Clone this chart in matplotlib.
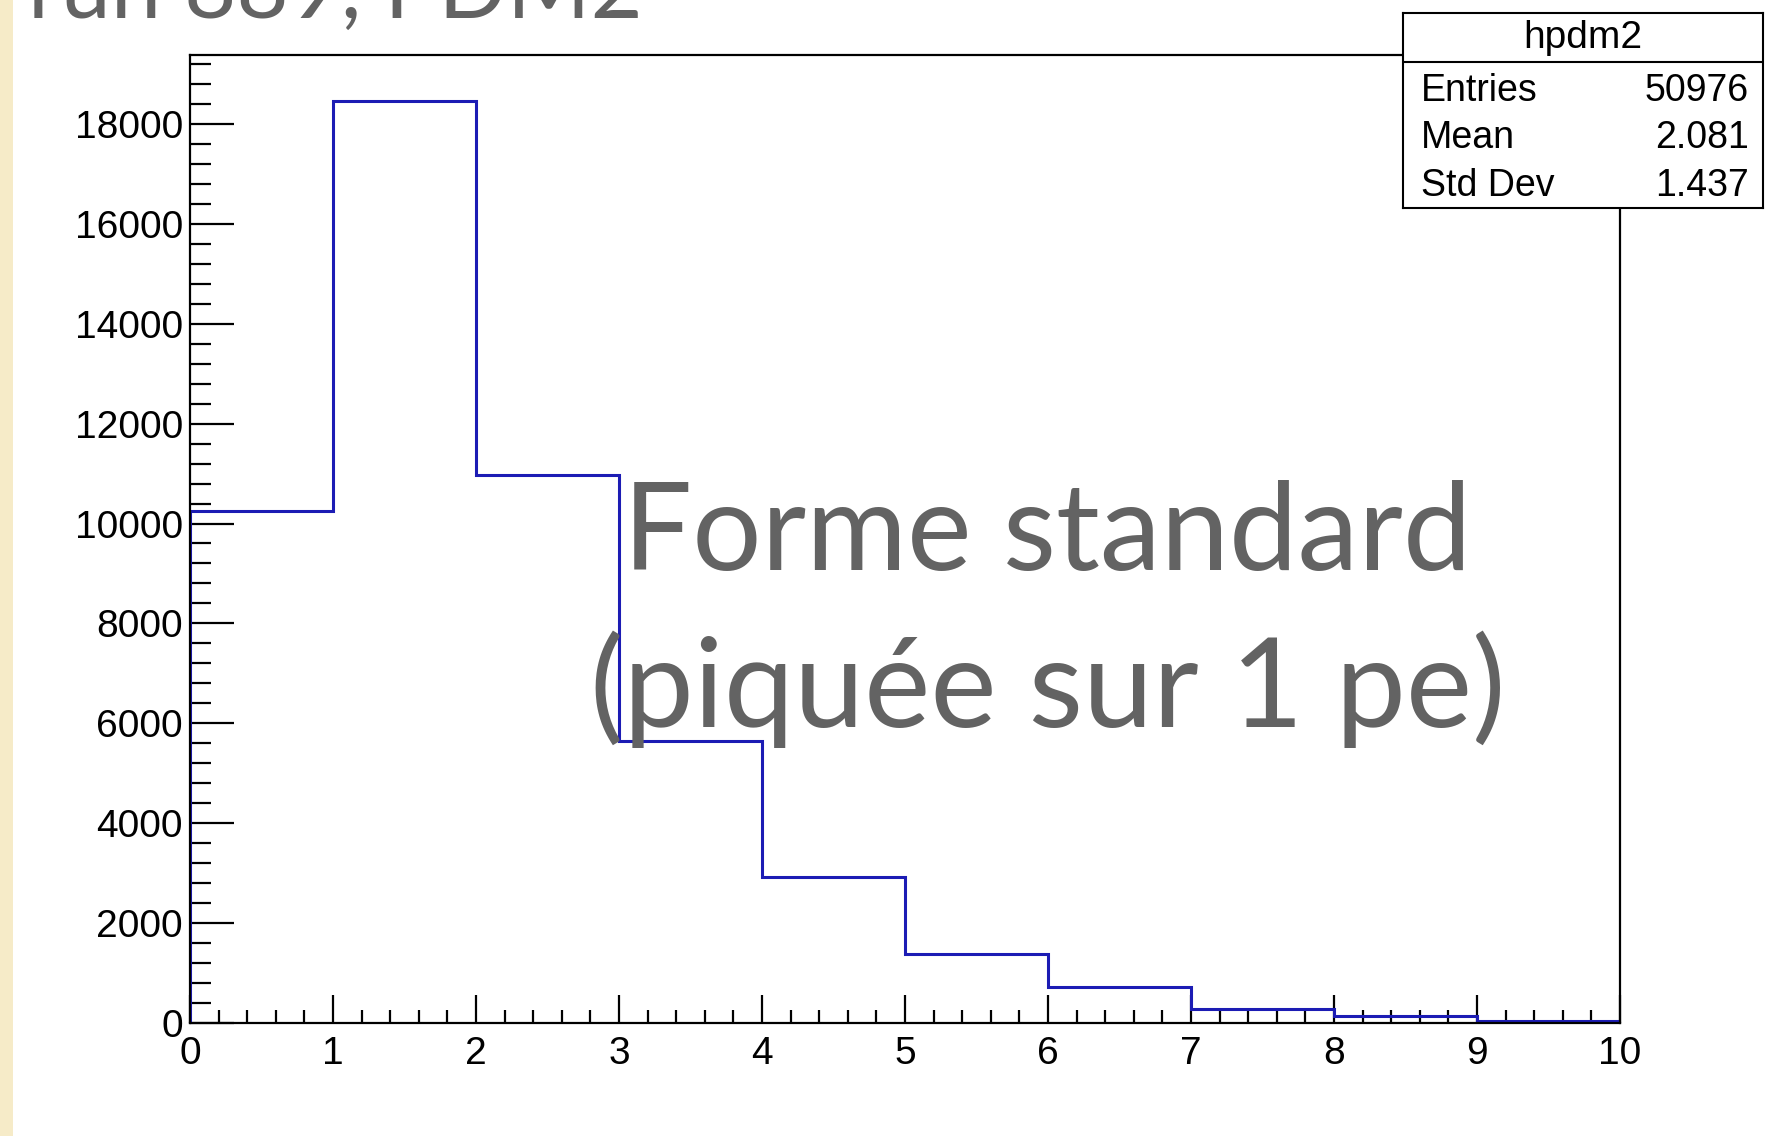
import matplotlib
matplotlib.use("Agg")
import matplotlib.pyplot as plt
from matplotlib.patches import Rectangle
from matplotlib.ticker import MultipleLocator

# hpdm2 : nombre de photoelectrons par evenement, run 889
bin_edges = list(range(11))
counts = [10241, 18457, 10963, 5645, 2916, 1379, 716, 287, 141, 46]

hist_name = "hpdm2"
stat_names = ["Entries", "Mean", "Std Dev"]
stat_values = ["50976", "2.081", "1.437"]

page_title = "run 889, PDM2"
caption = ["Forme standard", "(piquée sur 1 pe)"]

W, H = 1768, 1136
plt.rcParams["font.family"] = ["Liberation Sans", "DejaVu Sans"]

fig = plt.figure(figsize=(W / 100, H / 100), dpi=100)
fig.patch.set_facecolor("white")

# bande beige sur le bord gauche de la diapo
fig.add_artist(Rectangle((0, 0), 13 / W, 1, transform=fig.transFigure,
                         facecolor="#f6ebc8", edgecolor="none", zorder=0))

ax = fig.add_axes([190 / W, 1 - 1023 / H, 1430 / W, 968 / H])
ax.stairs(counts, bin_edges, color="#1c1cb4", lw=2.2, zorder=2.2)
ax.set_xlim(0, 10)
ax.set_ylim(0, 1.05 * max(counts))

ax.xaxis.set_major_locator(MultipleLocator(1))
ax.xaxis.set_minor_locator(MultipleLocator(0.2))
ax.yaxis.set_major_locator(MultipleLocator(2000))
ax.yaxis.set_minor_locator(MultipleLocator(400))
ax.tick_params(which="both", direction="in", width=1.6, top=False, right=False,
               labelsize=28, colors="black")
ax.tick_params(axis="y", which="major", length=31.5, pad=5)
ax.tick_params(axis="y", which="minor", length=15)
ax.tick_params(axis="x", which="major", length=20, pad=9)
ax.tick_params(axis="x", which="minor", length=9.5)
for sp in ax.spines.values():
    sp.set_linewidth(1.6)

# boite de statistiques ROOT
box = fig.add_axes([1403 / W, 1 - 208 / H, 360 / W, 195 / H], zorder=5)
box.set_xticks([])
box.set_yticks([])
box.set_xlim(0, 1)
box.set_ylim(0, 1)
for sp in box.spines.values():
    sp.set_linewidth(1.5)
box.axhline(0.749, color="black", lw=1.5)
box.text(0.5, 0.87, hist_name, ha="center", va="center", fontsize=28)
row_y = [0.6, 0.36, 0.115]
for name, val, y in zip(stat_names, stat_values, row_y):
    box.text(0.05, y, name, ha="left", va="center", fontsize=27)
    box.text(0.96, y, val, ha="right", va="center", fontsize=27)

# texte de la diapo
gray = "#636363"
slide_font = ["Lato", "DejaVu Sans"]
t_title = fig.text(28 / W, 1 - 18 / H, page_title, color=gray, fontsize=60,
                   family=slide_font, ha="left", va="baseline")
t1 = fig.text(623 / W, 1 - 570 / H, caption[0], color=gray, fontsize=80,
              family=slide_font, ha="left", va="baseline", zorder=6)
t2 = fig.text(590 / W, 1 - 727 / H, caption[1], color=gray, fontsize=80,
              family=slide_font, ha="left", va="baseline", zorder=6)

renderer = fig.canvas.get_renderer()


def fit_width(txt, target_px):
    w = txt.get_window_extent(renderer).width
    txt.set_fontsize(txt.get_fontsize() * target_px / w)


fit_width(t_title, 615)
fit_width(t1, 848)
fit_width(t2, 915)

fig.savefig("out.png", dpi=100)
